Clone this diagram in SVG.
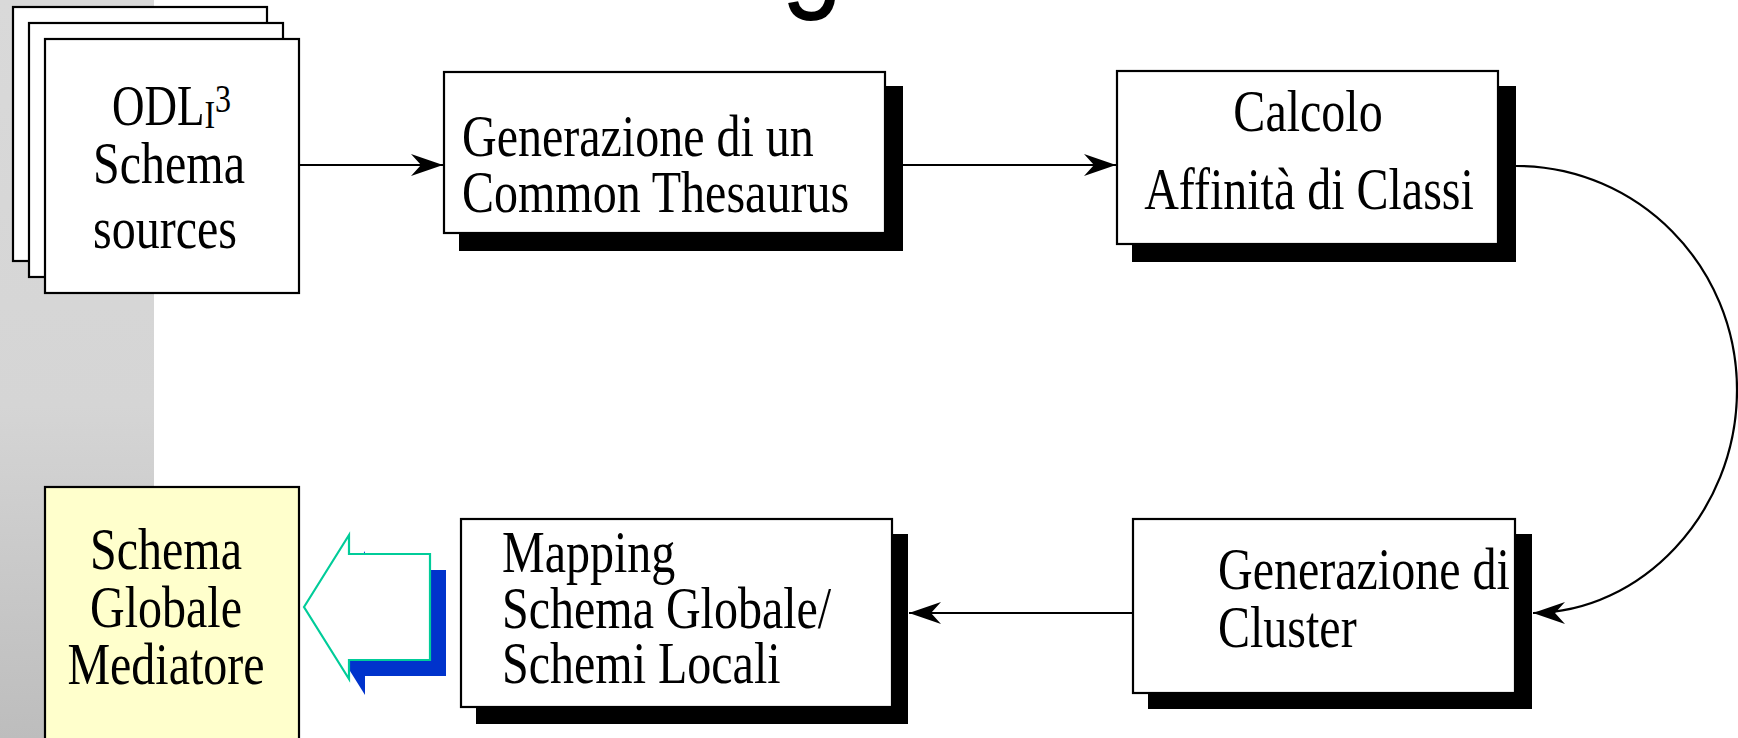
<svg xmlns="http://www.w3.org/2000/svg" width="1738" height="738" viewBox="0 0 1738 738">
<style>
.box{fill:#ffffff;stroke:#000000;stroke-width:2.2}
.shadow{fill:#000000}
.t{font-family:"Liberation Serif","Times New Roman",serif;font-size:48px;fill:#000000}
.c{text-anchor:middle}
.conn{fill:none;stroke:#000000;stroke-width:2.2}
</style>
<defs>
<linearGradient id="band" x1="0" y1="0" x2="0" y2="1">
<stop offset="0" stop-color="#d9d9d9"/>
<stop offset="0.55" stop-color="#d5d5d5"/>
<stop offset="1" stop-color="#bdbdbd"/>
</linearGradient>
<marker id="ah" markerUnits="userSpaceOnUse" viewBox="0 0 32 22" refX="32" refY="11" markerWidth="32" markerHeight="22" orient="auto">
<path d="M0,0 L32,11 L0,22 L10,11 Z" fill="#000000"/>
</marker>
</defs>
<rect x="0" y="0" width="1738" height="738" fill="#ffffff"/>
<rect x="0" y="0" width="154" height="738" fill="url(#band)"/>
<text transform="translate(781 -8) scale(1 1.25)" x="0" y="0" font-family="Liberation Sans, Arial, sans-serif" font-size="112" fill="#000000">g</text>

<g id="connectors">
<path class="conn" d="M299,165 H443" marker-end="url(#ah)"/>
<path class="conn" d="M903,165 H1116" marker-end="url(#ah)"/>
<path class="conn" d="M1516,166 C1638,166 1737,266 1737,390 C1737,514 1640,613 1533,613" marker-end="url(#ah)"/>
<path class="conn" d="M1133,613 H909" marker-end="url(#ah)"/>
</g>

<g id="sources">
<rect class="box" x="13" y="7" width="254" height="254"/>
<rect class="box" x="29" y="23" width="254" height="254"/>
<rect class="box" x="45" y="39" width="254" height="254"/>
<text class="t" transform="translate(112 125) scale(1 1.25)" x="0" y="0"><tspan font-size="45">ODL</tspan><tspan font-size="32" dy="2.5">I</tspan><tspan font-size="32" dy="-13">3</tspan></text>
<text class="t" transform="translate(93 183) scale(1 1.25)" x="0" y="0">Schema</text>
<text class="t" transform="translate(93 248) scale(1 1.25)" x="0" y="0">sources</text>
</g>

<g id="thesaurus">
<rect class="shadow" x="459" y="86" width="444" height="165"/>
<rect class="box" x="444" y="72" width="441" height="161"/>
<text class="t" transform="translate(462 156) scale(1 1.25)" x="0" y="0">Generazione di un</text>
<text class="t" transform="translate(462 212) scale(1 1.25)" x="0" y="0">Common Thesaurus</text>
</g>

<g id="affinita">
<rect class="shadow" x="1132" y="86" width="384" height="176"/>
<rect class="box" x="1117" y="71" width="381" height="173"/>
<text class="t c" transform="translate(1308 131) scale(1 1.25)" x="0" y="0">Calcolo</text>
<text class="t c" transform="translate(1309 209) scale(1 1.25)" x="0" y="0">Affinità di Classi</text>
</g>

<g id="cluster">
<rect class="shadow" x="1148" y="534" width="384" height="175"/>
<rect class="box" x="1133" y="519" width="382" height="174"/>
<text class="t" transform="translate(1218 589) scale(1 1.25)" x="0" y="0">Generazione di</text>
<text class="t" transform="translate(1218 647) scale(1 1.25)" x="0" y="0">Cluster</text>
</g>

<g id="mapping">
<rect class="shadow" x="476" y="534" width="432" height="190"/>
<rect class="box" x="461" y="519" width="431" height="188"/>
<text class="t" transform="translate(502 572) scale(1 1.25)" x="0" y="0">Mapping</text>
<text class="t" transform="translate(502 628) scale(1 1.25)" x="0" y="0">Schema Globale/</text>
<text class="t" transform="translate(502 683) scale(1 1.25)" x="0" y="0">Schemi Locali</text>
</g>

<g id="mediator-arrow">
<polygon points="320,623 365,551 365,570 446,570 446,676 365,676 365,695" fill="#0033cc"/>
<polygon points="304,607 349,535 349,554 430,554 430,660 349,660 349,679" fill="#ffffff" stroke="#00cc99" stroke-width="2.2"/>
</g>

<g id="mediatore">
<rect x="45" y="487" width="254" height="270" fill="#ffffcc" stroke="#000000" stroke-width="2.2"/>
<text class="t c" transform="translate(166 569) scale(1 1.25)" x="0" y="0">Schema</text>
<text class="t c" transform="translate(166 627) scale(1 1.25)" x="0" y="0">Globale</text>
<text class="t c" transform="translate(166 684) scale(1 1.25)" x="0" y="0">Mediatore</text>
</g>
</svg>
